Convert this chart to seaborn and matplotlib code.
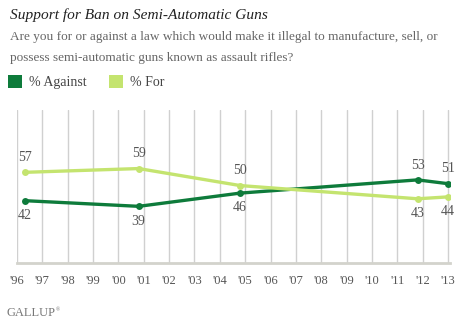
import matplotlib
matplotlib.use("Agg")
import matplotlib.pyplot as plt
import seaborn as sns
import pandas as pd
from matplotlib.patches import Patch

years = [1996.3, 2000.8, 2004.8, 2011.8, 2013.0]
against = [42, 39, 46, 53, 51]
for_ = [57, 59, 50, 43, 44]
tick_years = list(range(1996, 2014))
tick_labels = ["'%02d" % (y % 100) for y in tick_years]
series_names = ["% Against", "% For"]
colors = {"% Against": "#0E7B3B", "% For": "#C4E46F"}

df = pd.DataFrame({
    "year": years * 2,
    "value": against + for_,
    "series": [series_names[0]] * len(years) + [series_names[1]] * len(years),
})

sns.set_theme(style="white")
plt.rcParams["font.family"] = ["Liberation Serif", "DejaVu Serif"]

fig = plt.figure(figsize=(4.64, 3.24), dpi=100)
ax = fig.add_axes([17 / 464, 1 - 263 / 324, (450 - 17) / 464, (263 - 110) / 324])

sns.lineplot(data=df, x="year", y="value", hue="series", palette=colors,
             marker="o", markersize=5, markeredgewidth=0, linewidth=2.4,
             legend=False, ax=ax)

ax.set_xlim(1996, 2013.08)
ax.set_ylim(9, 90)
ax.set_xticks(tick_years)
ax.set_xticklabels(tick_labels, fontsize=9, color="#555555")
ax.set_yticks([])
ax.set_xlabel("")
ax.set_ylabel("")
ax.grid(axis="x", color="#d0d0d0", linewidth=1)
ax.set_axisbelow(True)
for s in ["top", "right", "left"]:
    ax.spines[s].set_visible(False)
ax.spines["bottom"].set_color("#d3d3cc")
ax.spines["bottom"].set_linewidth(2)
ax.tick_params(axis="x", length=0, pad=9)

for x, a, f in zip(years, against, for_):
    if f >= a:
        ax.annotate(str(f), (x, f), xytext=(0, 6), textcoords="offset points",
                    ha="center", va="bottom", fontsize=10, color="#555555")
        ax.annotate(str(a), (x, a), xytext=(0, -6), textcoords="offset points",
                    ha="center", va="top", fontsize=10, color="#555555")
    else:
        ax.annotate(str(a), (x, a), xytext=(0, 6), textcoords="offset points",
                    ha="center", va="bottom", fontsize=10, color="#555555")
        ax.annotate(str(f), (x, f), xytext=(0, -6), textcoords="offset points",
                    ha="center", va="top", fontsize=10, color="#555555")

fig.text(10 / 464, 1 - 15 / 324, "Support for Ban on Semi-Automatic Guns",
         fontsize=11.1, style="italic", color="#222222", va="center", ha="left")
fig.text(10 / 464, 1 - 37 / 324,
         "Are you for or against a law which would make it illegal to manufacture, sell, or",
         fontsize=9.5, color="#666666", va="center", ha="left")
fig.text(10 / 464, 1 - 58 / 324,
         "possess semi-automatic guns known as assault rifles?",
         fontsize=9.5, color="#666666", va="center", ha="left")

handles = [Patch(facecolor=colors[n], edgecolor="none") for n in series_names]
fig.legend(handles, series_names, loc="center left", bbox_to_anchor=(8 / 464, 1 - 82 / 324),
           ncol=2, frameon=False, fontsize=10, handlelength=1.0, handleheight=1.1,
           handletextpad=0.5, columnspacing=1.6, borderpad=0, borderaxespad=0,
           labelcolor="#444444")

fig.text(7 / 464, 1 - 313 / 324, "GALLUP", fontsize=9, color="#777777",
         va="center", ha="left")
fig.text(56 / 464, 1 - 310 / 324, "®", fontsize=4, color="#777777",
         va="center", ha="left")

fig.savefig("out.png", dpi=100)
